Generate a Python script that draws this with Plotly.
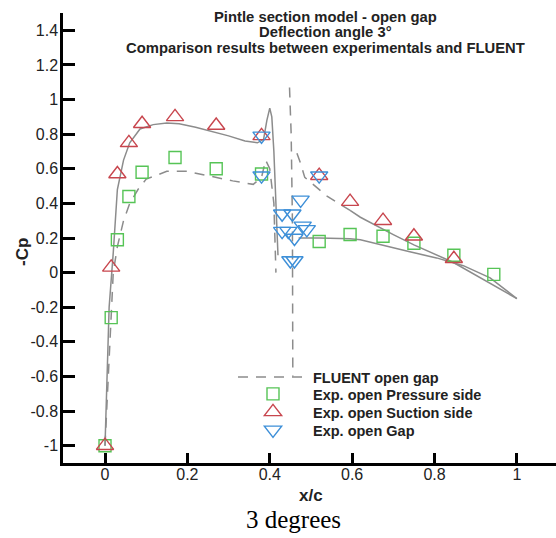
import plotly.graph_objects as go

# Experimental pressure taps (x/c, -Cp)
press_x = [0.0, 0.015, 0.03, 0.058, 0.09, 0.17, 0.27, 0.38, 0.52, 0.595, 0.675, 0.75, 0.847, 0.944]
press_cp = [-1.0, -0.26, 0.19, 0.44, 0.58, 0.665, 0.60, 0.57, 0.18, 0.22, 0.21, 0.17, 0.10, -0.01]

suct_x = [0.0, 0.015, 0.03, 0.058, 0.09, 0.17, 0.27, 0.38, 0.52, 0.595, 0.675, 0.75, 0.847]
suct_cp = [-1.0, 0.03, 0.57, 0.75, 0.86, 0.90, 0.85, 0.79, 0.56, 0.41, 0.30, 0.21, 0.08]

gap_x = [0.38, 0.38, 0.43, 0.455, 0.475, 0.43, 0.445, 0.48, 0.49, 0.46, 0.45, 0.46, 0.52]
gap_cp = [0.79, 0.56, 0.34, 0.34, 0.42, 0.24, 0.24, 0.27, 0.25, 0.20, 0.07, 0.07, 0.56]

# FLUENT open-gap solution, main element
cfd_suct_x = [0.0, 0.005, 0.01, 0.02, 0.03, 0.045, 0.06, 0.085, 0.117, 0.15, 0.18, 0.22,
              0.26, 0.30, 0.34, 0.37, 0.385, 0.393, 0.40, 0.405, 0.41, 0.415, 0.42]
cfd_suct_cp = [-1.0, -0.6, -0.2, 0.115, 0.48, 0.65, 0.75, 0.83, 0.855, 0.865, 0.86, 0.84,
               0.815, 0.79, 0.76, 0.75, 0.77, 0.88, 0.95, 0.90, 0.70, 0.40, 0.10]

cfd_press_x = [0.0, 0.005, 0.01, 0.015, 0.02, 0.03, 0.045, 0.06, 0.08, 0.10, 0.15, 0.20,
               0.26, 0.31, 0.36, 0.38, 0.39, 0.40, 0.41, 0.415]
cfd_press_cp = [-1.0, -0.75, -0.45, -0.2, 0.0, 0.15, 0.30, 0.40, 0.48, 0.54, 0.585, 0.585,
                0.555, 0.53, 0.51, 0.55, 0.65, 0.60, 0.40, 0.0]

# FLUENT gap channel
cfd_gap_x = [0.448, 0.452, 0.455, 0.455, 0.456]
cfd_gap_cp = [1.07, 0.80, 0.30, -0.20, -0.60]

# FLUENT flap, suction and pressure sides
cfd_flap_s_dash_x = [0.466, 0.475, 0.485, 0.54, 0.595]
cfd_flap_s_dash_cp = [0.69, 0.63, 0.55, 0.44, 0.36]
cfd_flap_s_x = [0.595, 0.62, 0.70, 0.75, 0.845, 0.935, 1.0]
cfd_flap_s_cp = [0.36, 0.32, 0.22, 0.16, 0.06, -0.06, -0.15]
cfd_flap_p_x = [0.47, 0.52, 0.595, 0.62, 0.74, 0.805, 0.87, 0.935, 1.0]
cfd_flap_p_cp = [0.20, 0.20, 0.195, 0.19, 0.12, 0.085, 0.04, -0.03, -0.15]

y_ticks = [-1, -0.8, -0.6, -0.4, -0.2, 0, 0.2, 0.4, 0.6, 0.8, 1, 1.2, 1.4]
y_ticktext = ["-1", "-0.8", "-0.6", "-0.4", "-0.2", "0", "0.2", "0.4", "0.6", "0.8", "1", "1.2", "1.4"]
x_ticks = [0, 0.2, 0.4, 0.6, 0.8, 1]
x_ticktext = ["0", "0.2", "0.4", "0.6", "0.8", "1"]

title_lines = ["Pintle section model - open gap",
               "Deflection angle 3°",
               "Comparison results between experimentals and FLUENT"]

GREY = "#8c8c8c"
DASH = "10px,8px"
GREEN = "#56c456"
RED = "#c8464e"
BLUE = "#3d8fd8"
SANS = "Arial, Liberation Sans, sans-serif"

# plot area in pixels
L, T, W, H = 63, 13, 493, 450


def px_x(p):
    return (p - L) / W


def px_y(p):
    return (T + H - p) / H


fig = go.Figure()


def cfd(x, y, dash, show=False):
    fig.add_trace(go.Scatter(
        x=x, y=y, mode="lines",
        line=dict(color=GREY, width=1.5, dash=dash),
        name="FLUENT open gap", showlegend=show, legend="legend", hoverinfo="skip"))


cfd(cfd_press_x, cfd_press_cp, DASH, show=True)
cfd(cfd_suct_x, cfd_suct_cp, "solid")
cfd(cfd_gap_x, cfd_gap_cp, DASH)
cfd(cfd_flap_s_dash_x, cfd_flap_s_dash_cp, DASH)
cfd(cfd_flap_s_x, cfd_flap_s_cp, "solid")
cfd(cfd_flap_p_x, cfd_flap_p_cp, "solid")

fig.add_trace(go.Scatter(
    x=press_x, y=press_cp, mode="markers", name="Exp. open Pressure side", legend="legend2",
    marker=dict(symbol="square-open", size=12, color=GREEN, line=dict(width=1.4, color=GREEN))))
fig.add_trace(go.Scatter(
    x=suct_x, y=suct_cp, mode="markers", name="Exp. open Suction side", legend="legend3",
    marker=dict(symbol="triangle-up-open", size=15, color=RED, line=dict(width=1.4, color=RED))))
fig.add_trace(go.Scatter(
    x=gap_x, y=gap_cp, mode="markers", name="Exp. open Gap", legend="legend4",
    marker=dict(symbol="triangle-down-open", size=15, color=BLUE, line=dict(width=1.4, color=BLUE))))

axis_common = dict(
    showline=True, linecolor="black", linewidth=2.5,
    ticks="inside", tickwidth=2.5, tickcolor="black",
    showgrid=False, zeroline=False,
    tickfont=dict(family=SANS, size=16, color="#222"),
)


def legend_row(y_pix):
    return dict(x=px_x(233), y=px_y(y_pix), xanchor="left", yanchor="middle",
                bgcolor="rgba(0,0,0,0)", itemwidth=70,
                font=dict(family=SANS, size=14.5, color="#222", weight="bold"))


fig.update_layout(
    width=556, height=538,
    margin=dict(l=L, r=0, t=T, b=538 - T - H),
    paper_bgcolor="white", plot_bgcolor="white",
    xaxis=dict(range=[-0.102, 1.095], tickvals=x_ticks, ticktext=x_ticktext,
               ticklen=10, ticklabelstandoff=-5, **axis_common),
    yaxis=dict(range=[-1.1, 1.5], tickvals=y_ticks, ticktext=y_ticktext,
               ticklen=12, ticklabelstandoff=-1, **axis_common),
    legend=legend_row(377),
    legend2=legend_row(394),
    legend3=legend_row(412),
    legend4=legend_row(430),
    showlegend=True,
)

for line, yc in zip(title_lines, [17, 32, 48]):
    fig.add_annotation(
        text=line, xref="paper", yref="paper", x=px_x(325), y=px_y(yc),
        xanchor="center", yanchor="middle", showarrow=False,
        font=dict(family=SANS, size=14.8, color="#222", weight="bold"))

fig.add_annotation(
    text="-Cp", xref="paper", yref="paper", x=px_x(22), y=px_y(252),
    xanchor="center", yanchor="middle", textangle=-90, showarrow=False,
    font=dict(family=SANS, size=17, color="#222", weight="bold"))

fig.add_annotation(
    text="x/c", xref="paper", yref="paper", x=px_x(311), y=px_y(495),
    xanchor="center", yanchor="middle", showarrow=False,
    font=dict(family=SANS, size=17, color="#222", weight="bold"))

fig.add_annotation(
    text="3 degrees", xref="paper", yref="paper", x=px_x(293), y=px_y(519),
    xanchor="center", yanchor="middle", showarrow=False,
    font=dict(family="Liberation Serif, Times New Roman, serif", size=25, color="black"))

fig.write_html("out.html")
